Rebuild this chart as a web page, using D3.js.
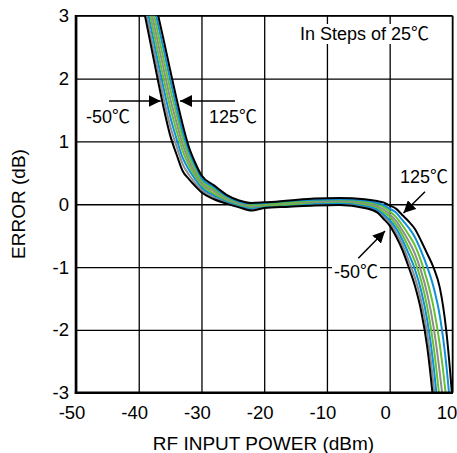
<!DOCTYPE html>
<html><head><meta charset="utf-8">
<script src="https://cdn.jsdelivr.net/npm/d3@7"></script>
<style>body{margin:0;background:#fff} text{font-family:"Liberation Sans",Arial,"Noto Sans CJK SC",sans-serif}</style>
</head><body><svg id="c" width="457" height="453"></svg>
<script>
// RF input power grid (dBm)
const power = [-40,-39,-38,-37,-36,-35,-34,-33,-32,-31,-30,-28,-26,-24,-22,-20,-16,-12,-8,-4,-2,-1,0,1,2,3,4,5,6,7,8,9,10,11];
// Error (dB) per temperature
const errM50 = [3.50,3.00,2.50,2.00,1.52,1.10,0.80,0.53,0.40,0.29,0.19,0.08,0.01,-0.05,-0.10,-0.06,-0.04,-0.02,-0.01,-0.06,-0.13,-0.23,-0.34,-0.51,-0.72,-0.99,-1.29,-1.69,-2.28,-3.20,-4.50,-5.80,-7.00,-8.50];
const errM25 = [3.63,3.14,2.64,2.15,1.67,1.25,0.93,0.64,0.47,0.34,0.23,0.11,0.03,-0.03,-0.08,-0.05,-0.03,0.00,0.01,-0.04,-0.10,-0.19,-0.29,-0.45,-0.64,-0.89,-1.16,-1.53,-2.07,-2.89,-4.05,-5.26,-6.44,-7.93];
const err0   = [3.76,3.27,2.79,2.30,1.83,1.40,1.05,0.74,0.55,0.40,0.27,0.14,0.05,-0.02,-0.06,-0.03,-0.01,0.01,0.02,-0.02,-0.08,-0.16,-0.25,-0.38,-0.56,-0.78,-1.03,-1.37,-1.85,-2.57,-3.59,-4.71,-5.89,-7.36];
const err25  = [3.89,3.41,2.93,2.45,1.98,1.55,1.18,0.85,0.62,0.45,0.31,0.17,0.07,0.00,-0.04,-0.02,0.00,0.03,0.04,0.00,-0.05,-0.12,-0.20,-0.32,-0.48,-0.68,-0.90,-1.21,-1.64,-2.26,-3.14,-4.17,-5.33,-6.79];
const err50  = [4.01,3.54,3.07,2.60,2.14,1.69,1.31,0.95,0.69,0.50,0.34,0.21,0.09,0.01,-0.03,-0.01,0.02,0.04,0.05,0.02,-0.03,-0.08,-0.16,-0.26,-0.41,-0.58,-0.78,-1.06,-1.43,-1.95,-2.69,-3.62,-4.77,-6.21];
const err75  = [4.14,3.68,3.21,2.75,2.29,1.84,1.44,1.06,0.76,0.55,0.38,0.24,0.11,0.03,-0.01,0.00,0.03,0.06,0.07,0.04,0.00,-0.04,-0.11,-0.20,-0.33,-0.48,-0.65,-0.90,-1.22,-1.64,-2.24,-3.08,-4.21,-5.64];
const err100 = [4.27,3.81,3.36,2.90,2.45,1.99,1.56,1.16,0.84,0.61,0.42,0.27,0.13,0.04,0.01,0.02,0.05,0.07,0.08,0.06,0.02,-0.01,-0.07,-0.13,-0.25,-0.37,-0.52,-0.74,-1.00,-1.32,-1.78,-2.53,-3.66,-5.07];
const err125 = [4.40,3.95,3.50,3.05,2.60,2.14,1.69,1.27,0.91,0.66,0.46,0.30,0.15,0.06,0.02,0.03,0.06,0.09,0.10,0.08,0.05,0.03,-0.02,-0.07,-0.17,-0.27,-0.39,-0.58,-0.79,-1.01,-1.33,-1.99,-3.10,-4.50];
const temps = ["-50","-25","0","25","50","75","100","125"];
const seriesColors = ["#000000","#8c8c8c","#0f8fd8","#66c033","#8c8c8c","#66c033","#0f8fd8","#000000"];
const xTicks = [-50,-40,-30,-20,-10,0,10];
const yTicks = [-3,-2,-1,0,1,2,3];

const allErr = [errM50,errM25,err0,err25,err50,err75,err100,err125];
const svg = d3.select("#c");
const L = 76, R = 452.4, T = 15.7, B = 392.8;
const x = d3.scaleLinear().domain([-50,10]).range([L,R]);
const y = d3.scaleLinear().domain([-3,3]).range([B,T]);

svg.append("rect").attr("width",457).attr("height",453).attr("fill","#fff");

const gx = svg.append("g").attr("transform",`translate(0,${B})`)
  .call(d3.axisBottom(x).tickValues(xTicks).tickSize(-(B-T)).tickPadding(13).tickFormat(d=>String(d)));
gx.select(".domain").remove();
gx.selectAll("line").attr("stroke","#000").attr("stroke-width",1.3);
gx.selectAll("text").attr("font-size",18.5).attr("dx",-4.5).attr("fill","#000");
// keep the last label inside the picture
gx.selectAll(".tick").filter(d=>d===10).select("text").attr("text-anchor","end").attr("dx",4.3);

const gy = svg.append("g").attr("transform",`translate(${L},0)`)
  .call(d3.axisLeft(y).tickValues(yTicks).tickSize(-(R-L)).tickPadding(7).tickFormat(d=>String(d)));
gy.select(".domain").remove();
gy.selectAll("line").attr("stroke","#000").attr("stroke-width",1.3);
gy.selectAll("text").attr("font-size",18.5).attr("fill","#000");

// frame
svg.append("line").attr("x1",L).attr("x2",R).attr("y1",T).attr("y2",T).attr("stroke","#000").attr("stroke-width",1.3);
svg.append("line").attr("x1",R).attr("x2",R).attr("y1",T).attr("y2",B).attr("stroke","#000").attr("stroke-width",1.3);

svg.append("clipPath").attr("id","clip").append("rect").attr("x",L).attr("y",T).attr("width",R-L).attr("height",B-T);

const line = d3.line().x((d,i)=>x(power[i])).y(d=>y(d)).curve(d3.curveMonotoneX);
const g = svg.append("g").attr("clip-path","url(#clip)");
const order = [1,2,3,4,5,6,0,7];
order.forEach(k=>{
  g.append("path").attr("d",line(allErr[k])).attr("fill","none")
   .attr("stroke",seriesColors[k]).attr("stroke-width",2).attr("stroke-linejoin","round")
   .attr("data-temp",temps[k]);
});

// thick left & bottom axes
svg.append("line").attr("x1",L).attr("x2",L).attr("y1",T-0.6).attr("y2",B+1.2).attr("stroke","#000").attr("stroke-width",2.6);
svg.append("line").attr("x1",L-1.2).attr("x2",R+0.6).attr("y1",B).attr("y2",B).attr("stroke","#000").attr("stroke-width",2.6);

// titles
svg.append("text").attr("x",263.5).attr("y",450).attr("text-anchor","middle").attr("font-size",19).text("RF INPUT POWER (dBm)");
svg.append("text").attr("transform","translate(25,204) rotate(-90)").attr("text-anchor","middle").attr("font-size",19).text("ERROR (dB)");

// annotations
const defs = svg.append("defs");
defs.append("marker").attr("id","ah").attr("viewBox","0 0 10 10").attr("refX",10).attr("refY",5)
  .attr("markerWidth",12).attr("markerHeight",12).attr("markerUnits","userSpaceOnUse").attr("orient","auto")
  .append("path").attr("d","M0,0L10,5L0,10Z").attr("fill","#000");

const notes = [
  {t:"In Steps of 25\u2103", x:300, y:40, bg:true},
  {t:"-50\u2103", x:86, y:123, bg:false},
  {t:"125\u2103", x:209, y:123, bg:false},
  {t:"125\u2103", x:400, y:183, bg:false},
  {t:"-50\u2103", x:334, y:278, bg:true}
];
notes.forEach(n=>{
  const tx = svg.append("text").attr("x",n.x).attr("y",n.y).attr("font-size",18).text(n.t);
  if(n.bg){
    const b = tx.node().getBBox();
    svg.insert("rect", ()=>tx.node()).attr("x",b.x-2).attr("y",b.y).attr("width",b.width+4).attr("height",b.height).attr("fill","#fff");
  }
});
const arrows = [[109,101,160.7,101],[235,101,180,101],[425,191.7,403.5,213],[358.3,258.3,385,231]];
arrows.forEach(a=>{
  svg.append("line").attr("x1",a[0]).attr("y1",a[1]).attr("x2",a[2]).attr("y2",a[3])
    .attr("stroke","#000").attr("stroke-width",1.5).attr("marker-end","url(#ah)");
});
</script></body></html>
